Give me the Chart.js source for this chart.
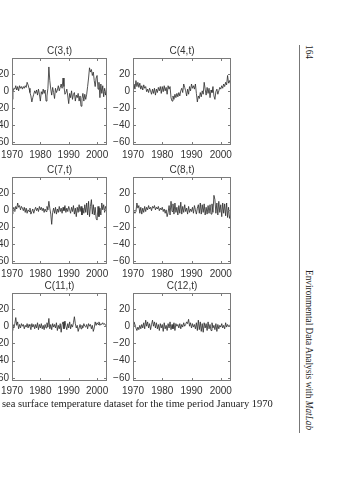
<!DOCTYPE html>
<html>
<head>
<meta charset="utf-8">
<script src="https://cdn.jsdelivr.net/npm/chart.js@4.4.0/dist/chart.umd.min.js"></script>
<style>
    html, body { margin: 0; padding: 0; background: #fff; width: 359px; height: 480px; overflow: hidden; position: relative; }
    canvas { position: absolute; }
    .caption { position: absolute; left: 2px; top: 398px; font: 10.5px "Liberation Serif", serif; color: #222; white-space: nowrap; }
    .rule { position: absolute; left: 299px; top: 45px; width: 1px; height: 388px; background: #777; }
    .side { position: absolute; writing-mode: vertical-rl; font: 9.3px "Liberation Serif", serif; color: #222; white-space: nowrap; }
</style>
</head>
<body>
<canvas id="c3"></canvas>
<canvas id="c4"></canvas>
<canvas id="c7"></canvas>
<canvas id="c8"></canvas>
<canvas id="c11"></canvas>
<canvas id="c12"></canvas>
<div class="caption">sea surface temperature dataset for the time period January 1970</div>
<div class="rule"></div>
<div class="side" style="left:304px; top:45px;">164</div>
<div class="side" style="left:304px; top:270px;">Environmental Data Analysis with <i>MatLab</i></div>

<script>
// --- DATA (one value every 4 months, starting January 1970) ---
const startYear = 1970;
const stepYears = 1 / 3;
const xTicks = [1970, 1980, 1990, 2000];
const yTicks = [-60, -40, -20, 0, 20];
const titles = ['C(3,t)', 'C(4,t)', 'C(7,t)', 'C(8,t)', 'C(11,t)', 'C(12,t)'];

const c3 = [
    -10, -1, 3,   2, 6, 1,   5, 0, 6,   3, 5, 2,   5, 3, 6,   4, 10, 7,   3, -2, -6,   -13, -8, -4,
    0, -3, 1,   -5, 2, -4,   -12, -1, -4,   2, -3, 1,   -12, -6, 3,   28, 12, 2,   -5, 4, -2,
    -9, 3, -2,   1, 6, 0,   4, 8, 3,   15, 5, -4,   -2, 2, -6,   -15, -3, -8,   0, -10, -4,
    -2, -12, -5,   -8, -3, -12,   -6, -18, -9,   -3, -12, -4,   -10, -4, 5,   15, 27, 22,
    25, 18, 22,   12, 5, 15,   18, 2, 10,   -8, 8, -3,   6, -7, 3,   -5, 2
];
const c4 = [
    3, 8, 2,   12, 5, 10,   4, 9, 2,   6, 1, 7,   3, 5, -1,   2, -2, 3,   0, -4, 2,   -3, 3, -5,
    2, -2, 4,   0, 5, -3,   5, -1, 6,   0, 4, -4,   6, 2, 5,   -8, -12, -6,   -10, -4, -8,
    -3, -7, -2,   -6, 0, 3,   -2, 8, 4,   0, -6, 2,   -4, 5, 0,   8, 3, 6,   2, 8, -3,
    -13, -6, -9,   -2, -7, 0,   -4, 10, 2,   -5, 4, -3,   3, -8, 1,   -2, 5, -6,
    -10, -1, 2,   -4, 0, 4,   2, 6, 3,   8, 5, 10,   7, 18, 9,   12, 8
];
const c7 = [
    -5, 0, 3,   -2, 4, 1,   8, 3, 5,   0, 4, 2,   -1, 3, -3,   2, -4, 0,   -2, 2, -5,   -2, 1, -4,
    0, 3, -1,   2, -2, 4,   0, 3, -1,   2, -3, 1,   -2, 4, 0,   10, 2, -5,   -17, -3, 2,
    -4, 3, -5,   1, -3, 4,   -2, 2, -4,   3, -1, 5,   -3, 2, -2,   4, 0, -4,   3, -2, 5,
    -5, 2, -8,   3, -3, 6,   -2, 4, -6,   2, -4, 6,   -3, 8, -6,   10, -8, 4,
    12, -5, 6,   -6, 3, -10,   -12, 4, -8,   2, -6, 8,   0, 6, -3,   4, 1
];
const c8 = [
    -3, -2, -4,   -2, 8, 2,   5, -4, 3,   -5, 2, -3,   4, -2, 3,   0, 5, 1,   3, -1, 4,   2, 5, 0,
    3, 1, 4,   -1, 2, 0,   3, -2, 1,   -4, 0, -8,   -3, 5, -6,   10, -2, 7,   -5, 8, -3,
    3, -6, 5,   -4, 9, -5,   4, -3, 6,   -2, 2, -5,   4, -3, 1,   -2, 3, -4,   5, 0, -5,
    2, 6, -4,   8, -5, 6,   -3, 7, -6,   3, -5, 5,   -4, 6, -5,   7, -3, 17,
    12, -4, 8,   -6, 10, -3,   6, -8, 8,   -4, 7, -7,   8, -9, 3,   -10, -6
];
const c11 = [
    -5, 2, -2,   3, 10, 1,   5, -3, 2,   -2, 3, 0,   2, -3, 1,   -1, 3, -2,   2, 0, -4,   3, -1, 2,
    -3, 2, -2,   4, -4, 2,   -2, 3, -3,   1, -4, 2,   -2, 4, -1,   9, -3, 2,   -4, 3, -1,
    2, -2, 4,   -5, 1, -3,   3, -7, 2,   5, -3, 6,   0, -4, 3,   -2, 5, -3,   2, -1, 4,
    11, 3, -2,   1, -6, -2,   2, -3, 1,   -2, 3, 0,   -1, 2, -3,   3, 0, 2,
    -3, 1, -6,   -2, 5, 1,   4, 2, 5,   1, 3, 2,   4, 2, 3,   1, 2
];
const c12 = [
    0, 5, 2,   -2, -5, -1,   -4, 1, -3,   2, -2, 4,   -3, 7, 0,   5, -2, 3,   -4, 2, 7,   0, 5, -2,
    4, -3, 2,   -5, 3, -2,   2, -6, 4,   -3, 1, -5,   3, -2, 5,   -4, 2, -3,   4, -5, 3,
    0, 2, -2,   3, -3, 2,   -1, 4, 0,   2, 5, 3,   8, 0, 4,   -2, 3, -1,   2, -3, 4,
    -5, 7, -4,   5, -6, 3,   -7, 4, -2,   3, -5, 5,   -3, 2, -5,   4, -2, 1,
    -4, 3, -6,   2, -3, 1,   -1, 3, -2,   1, -3, 4,   -1, 2, 0,   1, 0
];

// --- LAYOUT (box = plot area in page pixels) ---
const panels = [
    { id: 'c3',  values: c3,  box: [12, 58, 95, 87] },
    { id: 'c4',  values: c4,  box: [133, 58, 98, 87] },
    { id: 'c7',  values: c7,  box: [12, 177, 95, 87] },
    { id: 'c8',  values: c8,  box: [133, 177, 98, 87] },
    { id: 'c11', values: c11, box: [12, 293, 95, 88] },
    { id: 'c12', values: c12, box: [133, 293, 98, 88] }
];
const AXIS_W = 42, TITLE_H = 18, XAXIS_H = 20, PAD_R = 6;
const FONT = { family: '"Liberation Sans", Arial, sans-serif', size: 10 };
const TEXT = '#333';

// matlab-ish box with inward ticks on all four sides, plus the title
const boxPlugin = {
    id: 'boxTicks',
    afterDraw(chart, args, opts) {
        const { ctx, chartArea: a, scales } = chart;
        ctx.save();
        ctx.strokeStyle = '#7a7a7a';
        ctx.lineWidth = 1;
        ctx.strokeRect(a.left + 0.5, a.top + 0.5, a.right - a.left - 1, a.bottom - a.top - 1);
        ctx.beginPath();
        xTicks.forEach(v => {
            const x = Math.round(scales.x.getPixelForValue(v)) + 0.5;
            ctx.moveTo(x, a.bottom); ctx.lineTo(x, a.bottom - 3);
            ctx.moveTo(x, a.top); ctx.lineTo(x, a.top + 3);
        });
        yTicks.forEach(v => {
            const y = Math.round(scales.y.getPixelForValue(v)) + 0.5;
            ctx.moveTo(a.left, y); ctx.lineTo(a.left + 3, y);
            ctx.moveTo(a.right, y); ctx.lineTo(a.right - 3, y);
        });
        ctx.stroke();
        ctx.fillStyle = TEXT;
        ctx.font = `${FONT.size}px ${FONT.family}`;
        ctx.textAlign = 'center';
        ctx.textBaseline = 'middle';
        ctx.fillText(opts.text, (a.left + a.right) / 2, a.top - 7);
        ctx.restore();
    }
};

function buildPanel(p, idx) {
    const [bx, by, bw, bh] = p.box;
    const canvas = document.getElementById(p.id);
    canvas.width = bw + AXIS_W + PAD_R;
    canvas.height = bh + TITLE_H + XAXIS_H;
    canvas.style.left = (bx - AXIS_W) + 'px';
    canvas.style.top = (by - TITLE_H) + 'px';

    const points = p.values.map((v, i) => ({ x: startYear + i * stepYears, y: v }));

    new Chart(canvas.getContext('2d'), {
        type: 'line',
        data: { datasets: [{ data: points, borderColor: '#2a2a2a', borderWidth: 0.8, pointRadius: 0, tension: 0, fill: false }] },
        options: {
            responsive: false, animation: false, devicePixelRatio: 1,
            layout: { padding: { top: TITLE_H, right: PAD_R, left: 0, bottom: 0 } },
            plugins: { legend: { display: false }, tooltip: { enabled: false }, boxTicks: { text: titles[idx] } },
            scales: {
                x: {
                    type: 'linear', min: 1970, max: 2003.5,
                    afterBuildTicks: s => { s.ticks = xTicks.map(v => ({ value: v })); },
                    afterFit: s => { s.height = XAXIS_H; },
                    grid: { display: false, drawTicks: false }, border: { display: false },
                    ticks: { font: FONT, color: TEXT, padding: 4, maxRotation: 0, autoSkip: false, callback: v => String(v) }
                },
                y: {
                    min: -63.5, max: 38.5,
                    afterBuildTicks: s => { s.ticks = yTicks.map(v => ({ value: v })); },
                    afterFit: s => { s.width = AXIS_W; },
                    grid: { display: false, drawTicks: false }, border: { display: false },
                    ticks: { font: FONT, color: TEXT, padding: 3, callback: v => (v < 0 ? '\u2212' + Math.abs(v) : String(v)) }
                }
            }
        },
        plugins: [boxPlugin]
    });
}

document.addEventListener('DOMContentLoaded', () => {
    panels.forEach(buildPanel);
});
</script>
</body>
</html>
